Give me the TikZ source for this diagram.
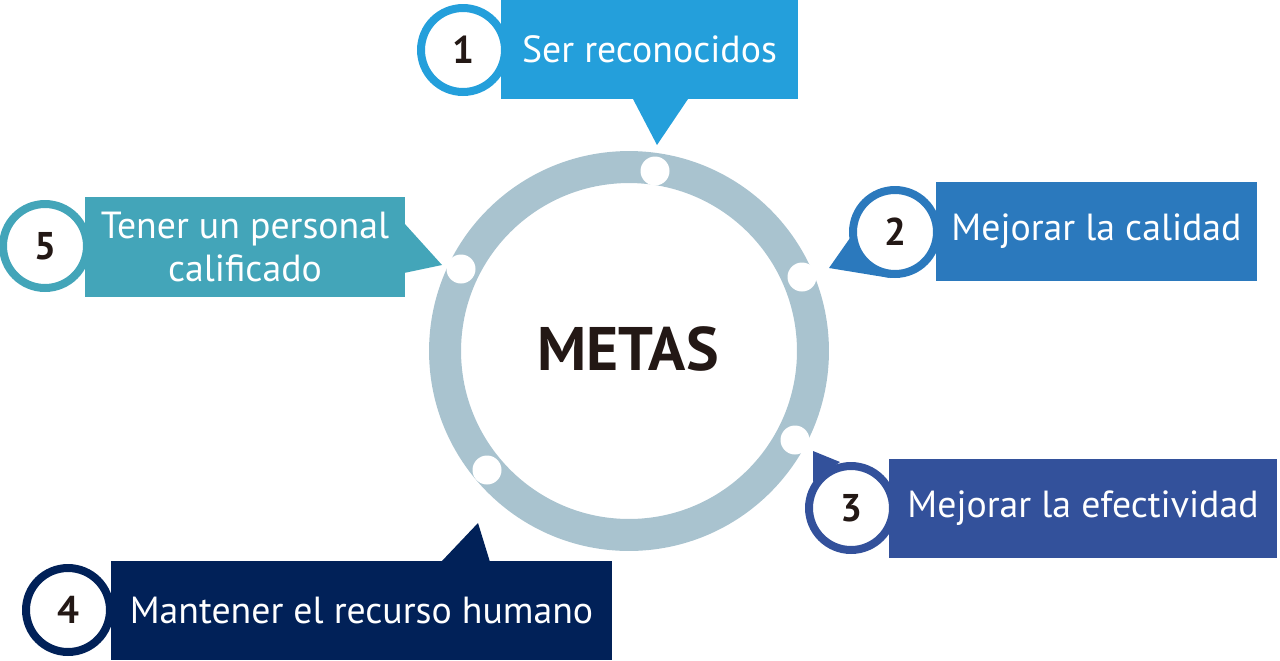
\documentclass[tikz,border=0pt]{standalone}
\usepackage{fontspec}
\setmainfont{PT Sans}
\usetikzlibrary{positioning}
\definecolor{cA}{HTML}{249FDB}
\definecolor{cB}{HTML}{2B79BD}
\definecolor{cC}{HTML}{33519B}
\definecolor{cD}{HTML}{012158}
\definecolor{cE}{HTML}{43A5B9}
\definecolor{ringc}{HTML}{A9C3CF}
\definecolor{ink}{HTML}{231815}

\begin{document}
\begin{tikzpicture}[x=0.02cm, y=-0.02cm,
    box/.style={rectangle, inner sep=0pt, minimum height=1.98cm, text=white, align=center, font=\fontsize{21.5}{25}\selectfont},
    num/.style={circle, draw, fill=white, line width=0.16cm, minimum size=1.68cm, inner sep=0pt, text=ink, font=\bfseries\fontsize{22}{25}\selectfont},
    dot/.style={circle, fill=white, minimum size=0.58cm, inner sep=0pt}]
		\useasboundingbox (0,0) rectangle (1280,660);
		% centre and ring
		\node (M) at (628,349) [text=ink, font=\bfseries\fontsize{35}{40}\selectfont] {METAS};
		\draw[ringc, line width=0.64cm] (629,351) circle (3.68cm);
		\node (D1) at (655,171) [dot] {};
		\node (D2) at (802,277) [dot] {};
		\node (D3) at (795,440) [dot] {};
		\node (D4) at (487,470) [dot] {};
		\node (D5) at (461,269) [dot] {};
		% pointer tips
		\coordinate (T1) at (657,145);
		\coordinate (T2) at (829,268);
		\coordinate (T3) at (813,451);
		\coordinate (T4) at (478,523);
		\coordinate (T5) at (442,265);
		\fill[cA] (633,99) -- (T1) -- (688,99) -- cycle;
		\fill[cB] (850,238) -- (T2) -- (890,278) -- cycle;
		\fill[cC] (840,462) -- (T3) -- (813,482) -- cycle;
		\fill[cD] (441,562) -- (T4) -- (490,562) -- cycle;
		\fill[cE] (404,223) -- (T5) -- (404,273) -- cycle;
		% boxes
		\node (B1) at (649.5,49.5) [box, fill=cA, minimum width=5.94cm] {Ser reconocidos};
		\node (B2) at (1096.5,231.5) [box, fill=cB, minimum width=6.42cm] {Mejorar la calidad};
		\node (B3) at (1083,508.5) [box, fill=cC, minimum width=7.76cm] {Mejorar la efectividad};
		\node (B4) at (361.5,610.5) [box, fill=cD, minimum width=10.02cm] {Mantener el recurso humano};
		\node (B5) at (245,247) [box, fill=cE, minimum width=6.4cm, minimum height=2cm] {Tener un personal\\calificado};
		% numbers
		\node (N1) at (463,50) [num, draw=cA] {1};
		\node (N2) at (895,232) [num, draw=cB] {2};
		\node (N3) at (851,508) [num, draw=cC] {3};
		\node (N4) at (68,610) [num, draw=cD] {4};
		\node (N5) at (45,246) [num, draw=cE] {5};
\end{tikzpicture}
\end{document}
